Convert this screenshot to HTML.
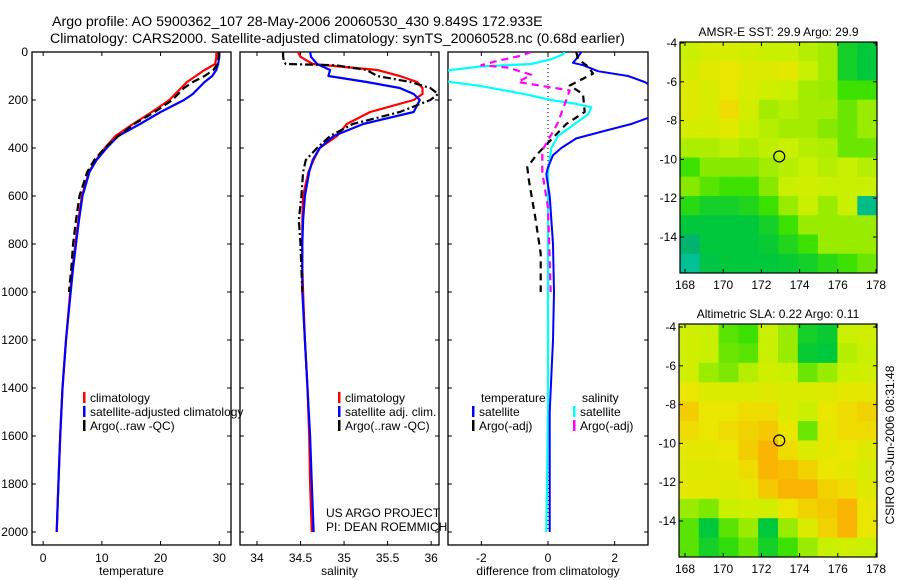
<!DOCTYPE html>
<html><head><meta charset="utf-8">
<style>
html,body{margin:0;padding:0;background:#fff;}
svg{display:block;font-family:"Liberation Sans",sans-serif;}
text{font-size:12px;fill:#000;}
</style></head>
<body>
<svg id="fig" width="900" height="580" viewBox="0 0 900 580" xmlns="http://www.w3.org/2000/svg">
<text x="52" y="26" style="font-size:14.2px">Argo profile: AO 5900362_107 28-May-2006 20060530_430 9.849S 172.933E</text>
<text x="50" y="43" style="font-size:14.2px">Climatology: CARS2000. Satellite-adjusted climatology: synTS_20060528.nc (0.68d earlier)</text>
<text transform="translate(894,445) rotate(-90)" text-anchor="middle">CSIRO 03-Jun-2006 08:31:48</text>
</svg>
<script>
const NS='http://www.w3.org/2000/svg';
const svg=document.getElementById('fig');
function mk(tag,attrs,parent){const e=document.createElementNS(NS,tag);for(const k in attrs)e.setAttribute(k,attrs[k]);(parent||svg).appendChild(e);return e;}

const depthTicks=[0,200,400,600,800,1000,1200,1400,1600,1800,2000];
const tDepth=[0,20,50,75,100,125,150,175,200,250,300,350,400,450,500,600,700,800,900,1000,1200,1400,1600,1800,2000];
const tClim=[29.5,29.5,29.3,27.5,26,24.5,23.5,22.5,21.5,18.5,15.3,12.3,10.5,9,7.8,6.6,6,5.5,5,4.6,3.9,3.3,2.9,2.6,2.3];
const tSat=[30,30,29.8,29.5,28.8,27.5,26.5,25.5,24,20,16.5,12.8,10.8,9.1,7.9,6.7,6.1,5.6,5.1,4.7,3.9,3.3,2.9,2.6,2.3];
const argoDepth=[0,20,50,75,100,125,150,175,200,250,300,350,400,450,500,600,700,800,900,1000];
const tArgo=[29.9,29.9,29.7,29,27.5,25.5,24,23,22,19,15.5,12.8,10.5,8.7,7.5,6.2,5.6,5.1,4.8,4.4];
const tTicks=[0,10,20,30];
const sClim=[34.47,34.5,34.64,35.38,35.64,35.84,35.9,35.9,35.8,35.3,35.03,34.92,34.72,34.65,34.59,34.53,34.52,34.52,34.52,34.53,34.55,34.58,34.6,34.61,34.63];
const sSat=[34.61,34.62,34.69,34.84,34.82,35.26,35.64,35.8,35.87,35.8,35.22,34.88,34.72,34.64,34.6,34.55,34.53,34.52,34.52,34.52,34.55,34.58,34.61,34.63,34.65];
const sArgoDepth=[0,20,40,50,55,75,100,125,150,175,200,250,300,350,400,450,500,600,700,800,1000];
const sArgo=[34.3,34.3,34.31,34.33,34.9,35.26,35.38,35.76,35.99,36.08,35.99,35.64,35.1,34.84,34.69,34.56,34.53,34.51,34.48,34.5,34.52];
const sTicks=[34,34.5,35,35.5,36];
const dTicks=[-2,0,2];
const dTsatDepth=[0,20,45,55,80,100,125,150,200,270,300,325,360,400,430,480,510,600,800,1000,1200,1500,2000];
const dTsat=[1.0,0.9,0.75,1.05,1.5,2.4,2.9,3.2,3.2,3.1,2.5,1.8,0.85,0.4,0.15,0,-0.05,0.05,0.15,0.18,0.15,0.05,0.05];
const dTargoDepth=[0,30,60,90,140,175,250,300,350,430,480,530,690,840,1000];
const dTargo=[0.85,0.9,1.2,1.35,0.65,1.05,1.1,0.55,0.2,-0.35,-0.62,-0.58,-0.38,-0.22,-0.22];
const dSsatDepth=[0,10,30,50,60,80,100,120,140,160,180,200,215,230,260,300,350,400,500,700,1000,1500,2000];
const dSsat=[0.5,0.45,0.1,-0.5,-2,-3.2,-3.2,-3.2,-2.1,-1.3,-0.55,0.08,0.8,1.3,1.2,0.8,0.3,0.1,0,0,0,0,-0.05];
const dSargoDepth=[0,15,40,55,65,95,125,160,200,300,410,500,650,1000];
const dSargo=[-0.5,-0.8,-1.6,-2.0,-1.2,-0.5,-0.9,0.65,0.55,0.28,-0.17,-0.17,0,0.08];

const yTop=52, yBot=545;
const yD=d=>52+d*0.24;

function panel(name,x0,x1,xmin,xmax,ticks,tickFmt,xlabel,showY){
  const xs=v=>x0+(v-xmin)/(xmax-xmin)*(x1-x0);
  const g=mk('g',{});
  
  
  const clipId='clip-'+name;
  const cp=mk('clipPath',{id:clipId},g);mk('rect',{x:x0,y:yTop,width:x1-x0,height:yBot-yTop},cp);
  const frame=mk('rect',{x:x0,y:yTop,width:x1-x0,height:yBot-yTop,fill:'none',stroke:'#000','stroke-width':1.3},g);
  
  
  ticks.forEach(t=>{
    const x=xs(t);
    mk('line',{x1:x,x2:x,y1:yBot,y2:yBot-4,stroke:'#000'},g);
    mk('line',{x1:x,x2:x,y1:yTop,y2:yTop+4,stroke:'#000'},g);
    const tx=mk('text',{x:x,y:yBot+17,'text-anchor':'middle'},g);tx.textContent=tickFmt(t);
    
    
  });
  depthTicks.forEach(d=>{
    const y=yD(d);
    mk('line',{x1:x0,x2:x0+4,y1:y,y2:y,stroke:'#000'},g);
    mk('line',{x1:x1,x2:x1-4,y1:y,y2:y,stroke:'#000'},g);
    if(showY){const tx=mk('text',{x:x0-4,y:y+4,'text-anchor':'end'},g);tx.textContent=d;
      
      }
  });
  const xl=mk('text',{x:(x0+x1)/2,y:575,'text-anchor':'middle'},g);xl.textContent=xlabel;
  
  
  const lg=mk('g',{'clip-path':'url(#'+clipId+')'},g);
  return {xs,g,lg};
}
function line(p,depths,vals,color,w,dash,name){
  const pts=depths.map((d,i)=>p.xs(vals[i]).toFixed(1)+','+yD(d).toFixed(1)).join(' ');
  const e=mk('polyline',{points:pts,fill:'none',stroke:color,'stroke-width':w,'stroke-dasharray':dash||'none','stroke-linejoin':'round'},p.lg);
  
  
}
function legend(g,x,y,items){
  items.forEach((it,i)=>{
    mk('rect',{x:x,y:y+i*14-10,width:2.5,height:11,fill:it[1]},g);
    const t=mk('text',{x:x+7,y:y+i*14},g);t.textContent=it[0];
    
    
  });
}

const pT=panel('temperature-panel',32,231,-1.9,32,tTicks,v=>v,'temperature',true);
line(pT,tDepth,tClim,'#ff0000',2.2,null,'temp-climatology-line');
line(pT,tDepth,tSat,'#0000ff',2.2,null,'temp-satellite-line');
line(pT,argoDepth,tArgo,'#000',2.2,'8,4','temp-argo-line');
legend(pT.g,83,402,[['climatology','#f00'],['satellite-adjusted climatology','#00f'],['Argo(..raw -QC)','#000']]);

const pS=panel('salinity-panel',240,439,33.805,36.09,sTicks,v=>v,'salinity',false);
line(pS,tDepth,sClim,'#ff0000',2.2,null,'sal-climatology-line');
line(pS,tDepth,sSat,'#0000ff',2.2,null,'sal-satellite-line');
line(pS,sArgoDepth,sArgo,'#000',2.2,'8,3,2,3','sal-argo-line');
legend(pS.g,338,402,[['climatology','#f00'],['satellite adj. clim.','#00f'],['Argo(..raw -QC)','#000']]);
[['US ARGO PROJECT',517],['PI: DEAN ROEMMICH',531]].forEach(a=>{const t=mk('text',{x:326,y:a[1]},pS.g);t.textContent=a[0];
  
  });

const pD=panel('difference-panel',448,648,-3,3,dTicks,v=>v,'difference from climatology',false);
mk('line',{x1:pD.xs(0),x2:pD.xs(0),y1:yTop,y2:yD(2000),stroke:'#000','stroke-dasharray':'1,3'},pD.lg);
line(pD,dSsatDepth,dSsat,'#00ffff',2.2,null,'diff-salinity-satellite-line');
line(pD,dTsatDepth,dTsat,'#0000ff',2,null,'diff-temp-satellite-line');
line(pD,dTargoDepth,dTargo,'#000',2.2,'7,5','diff-temp-argo-line');
line(pD,dSargoDepth,dSargo,'#ff00ff',2.2,'7,5','diff-salinity-argo-line');
const lt=mk('text',{x:481,y:402},pD.g);lt.textContent='temperature';

const ls=mk('text',{x:582,y:402},pD.g);ls.textContent='salinity';

legend(pD.g,472,416,[['satellite','#00f'],['Argo(-adj)','#000']]);
legend(pD.g,573,416,[['satellite','#0ff'],['Argo(-adj)','#f0f']]);

const lonTicks=[168,170,172,174,176,178];
const latTicks=[-4,-6,-8,-10,-12,-14];
const sstGrid=[
[0.6,0.64,0.64,0.62,0.6,0.6,0.58,0.56,0.35,0.3],
[0.63,0.67,0.7,0.66,0.66,0.68,0.6,0.56,0.35,0.3],
[0.66,0.64,0.69,0.64,0.62,0.6,0.56,0.55,0.45,0.45],
[0.66,0.64,0.72,0.63,0.56,0.58,0.56,0.56,0.5,0.55],
[0.63,0.63,0.67,0.6,0.58,0.56,0.56,0.53,0.5,0.55],
[0.57,0.57,0.59,0.57,0.59,0.6,0.58,0.57,0.5,0.5],
[0.45,0.53,0.53,0.53,0.56,0.58,0.6,0.58,0.6,0.58],
[0.53,0.48,0.45,0.45,0.53,0.6,0.62,0.6,0.6,0.6],
[0.4,0.35,0.35,0.38,0.45,0.55,0.6,0.55,0.6,0.15],
[0.3,0.3,0.3,0.3,0.35,0.45,0.55,0.55,0.55,0.55],
[0.2,0.3,0.3,0.3,0.32,0.38,0.45,0.55,0.55,0.55],
[0.12,0.28,0.3,0.3,0.3,0.32,0.35,0.4,0.45,0.5]];
const slaGrid=[
[0.62,0.6,0.48,0.45,0.6,0.55,0.35,0.32,0.6,0.62],
[0.62,0.6,0.5,0.48,0.6,0.55,0.32,0.3,0.58,0.6],
[0.62,0.55,0.52,0.58,0.62,0.6,0.5,0.55,0.6,0.62],
[0.7,0.65,0.65,0.65,0.66,0.65,0.65,0.66,0.68,0.68],
[0.75,0.7,0.7,0.72,0.72,0.65,0.6,0.7,0.72,0.74],
[0.72,0.7,0.72,0.74,0.76,0.7,0.5,0.68,0.72,0.72],
[0.68,0.68,0.7,0.75,0.8,0.72,0.65,0.68,0.7,0.66],
[0.66,0.66,0.68,0.72,0.8,0.78,0.74,0.7,0.68,0.64],
[0.68,0.68,0.66,0.68,0.76,0.8,0.8,0.74,0.72,0.66],
[0.55,0.52,0.6,0.62,0.62,0.7,0.74,0.76,0.8,0.7],
[0.48,0.3,0.48,0.55,0.3,0.55,0.65,0.74,0.8,0.7],
[0.48,0.35,0.42,0.5,0.35,0.45,0.55,0.6,0.62,0.6]];
const floatLon=172.933, floatLat=-9.849;

const stops=[[0,[0,210,210]],[0.2,[0,180,110]],[0.3,[0,200,60]],[0.45,[60,225,0]],[0.6,[200,240,0]],[0.7,[235,230,0]],[0.8,[248,180,0]],[1,[250,140,0]]];
function cmap(v){for(let i=1;i<stops.length;i++){if(v<=stops[i][0]){const a=stops[i-1],b=stops[i],f=(v-a[0])/(b[0]-a[0]);return 'rgb('+a[1].map((c,k)=>Math.round(c+(b[1][k]-c)*f)).join(',')+')';}}return 'rgb(250,140,0)';}

function map(name,title,grid,x0,x1,yt,yb,latTopPx){
  const lonX=l=>685+(l-168)*19.1;
  const latY=l=>latTopPx+(-4-l)*19.4;
  const g=mk('g',{});
  
  
  const rows=grid.length, cols=grid[0].length;
  const cw=(x1-x0)/cols, ch=(yb-yt)/rows;
  grid.forEach((row,r)=>row.forEach((v,c)=>{
    const cell=mk('rect',{x:x0+c*cw,y:yt+r*ch,width:cw+0.5,height:ch+0.5,fill:cmap(v)},g);
    
    
  }));
  mk('rect',{x:x0,y:yt,width:x1-x0,height:yb-yt,fill:'none',stroke:'#000','stroke-width':1.2},g);
  lonTicks.forEach(l=>{const x=lonX(l);
    mk('line',{x1:x,x2:x,y1:yb,y2:yb-4,stroke:'#000'},g);mk('line',{x1:x,x2:x,y1:yt,y2:yt+4,stroke:'#000'},g);
    const t=mk('text',{x:x,y:yb+16,'text-anchor':'middle'},g);t.textContent=l;
    });
  latTicks.forEach(l=>{const y=latY(l);
    mk('line',{x1:x0,x2:x0+4,y1:y,y2:y,stroke:'#000'},g);mk('line',{x1:x1,x2:x1-4,y1:y,y2:y,stroke:'#000'},g);
    const t=mk('text',{x:x0-3,y:y+4,'text-anchor':'end'},g);t.textContent=l;
    });
  const tt=mk('text',{x:(x0+x1)/2,y:yt-6,'text-anchor':'middle'},g);tt.textContent=title;
  
  const c=mk('circle',{cx:lonX(floatLon),cy:latY(floatLat),r:5.5,fill:'none',stroke:'#000','stroke-width':1.2},g);
  
  
}
map('sst-map','AMSR-E SST: 29.9 Argo: 29.9',sstGrid,680,877,42,273,43);
map('sla-map','Altimetric SLA: 0.22 Argo: 0.11',slaGrid,679,877,324,557,327);
</script>
</body></html>
